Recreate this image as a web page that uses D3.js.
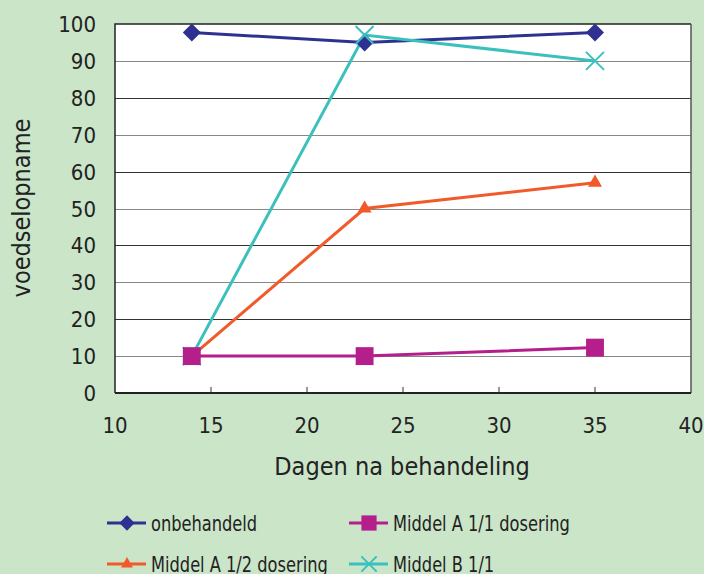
<!DOCTYPE html>
<html>
<head>
<meta charset="utf-8">
<script src="https://cdn.jsdelivr.net/npm/d3@7"></script>
<style>
body { margin:0; background:#cbe5c8; }
svg text { font-family: "DejaVu Sans Condensed", "DejaVu Sans", sans-serif; font-stretch: condensed; fill:#222; }
</style>
</head>
<body>
<div id="chart"></div>
<script>
// dagen na behandeling
var days = [14, 23, 35];
var onbehandeld = [97.7, 95, 97.7];
var middelA11 = [10, 10, 12.3];
var middelA12 = [10, 50, 57];
var middelB11 = [10, 97, 90];
var xTicks = [10, 15, 20, 25, 30, 35, 40];
var yTicks = [0, 10, 20, 30, 40, 50, 60, 70, 80, 90, 100];

var series = [
  {name:"onbehandeld", values:onbehandeld, color:"#2e3192", sym:"diamond", size:9},
  {name:"Middel A 1/2 dosering", values:middelA12, color:"#f15a29", sym:d3.symbolTriangle, size:85},
  {name:"Middel B 1/1", values:middelB11, color:"#3cc0bd", sym:"x", size:9},
  {name:"Middel A 1/1 dosering", values:middelA11, color:"#b41f8c", sym:d3.symbolSquare, size:320}
];

var W = 704, H = 574;
var pLeft = 115, pTop = 24, pRight = 691, pBottom = 393;

var svg = d3.select("#chart").append("svg")
  .attr("width", W).attr("height", H);

svg.append("rect").attr("width", W).attr("height", H).attr("fill", "#cbe5c8");

var x = d3.scaleLinear().domain([10, 40]).range([pLeft, pRight]);
var y = d3.scaleLinear().domain([0, 100]).range([pBottom, pTop]);

svg.append("rect")
  .attr("x", pLeft).attr("y", pTop)
  .attr("width", pRight-pLeft).attr("height", pBottom-pTop)
  .attr("fill", "#fff");

// gridlines
svg.append("g").selectAll("line")
  .data(yTicks.filter(function(d){ return d>0 && d<100; }))
  .enter().append("line")
  .attr("x1", pLeft).attr("x2", pRight)
  .attr("y1", function(d){ return Math.round(y(d))+0.5; })
  .attr("y2", function(d){ return Math.round(y(d))+0.5; })
  .attr("stroke", function(d){ return (d/10)%2 ? "#888" : "#333"; })
  .attr("stroke-width", 1.2);

// plot border
svg.append("path")
  .attr("d", "M"+pLeft+","+pBottom+"V"+pTop+"H"+pRight)
  .attr("fill", "none").attr("stroke", "#222").attr("stroke-width", 1.5);
svg.append("line")
  .attr("x1", pRight).attr("x2", pRight).attr("y1", pTop).attr("y2", pBottom)
  .attr("stroke", "#555").attr("stroke-width", 1.5);
svg.append("line")
  .attr("x1", pLeft).attr("x2", pRight).attr("y1", pBottom).attr("y2", pBottom)
  .attr("stroke", "#222").attr("stroke-width", 2);

// x ticks (inside, upward)
svg.append("g").selectAll("line")
  .data(xTicks.slice(1, -1))
  .enter().append("line")
  .attr("x1", function(d){ return x(d); }).attr("x2", function(d){ return x(d); })
  .attr("y1", pBottom).attr("y2", pBottom-6)
  .attr("stroke", "#333").attr("stroke-width", 1);

// tick labels
svg.append("g").selectAll("text")
  .data(xTicks).enter().append("text")
  .attr("x", function(d){ return x(d); })
  .attr("y", 433)
  .attr("text-anchor", "middle")
  .style("font-size", "22px")
  .text(function(d){ return d; });

svg.append("g").selectAll("text")
  .data(yTicks).enter().append("text")
  .attr("x", 96)
  .attr("y", function(d){ return y(d)+8; })
  .attr("text-anchor", "end")
  .style("font-size", "22px")
  .text(function(d){ return d; });

// axis titles
svg.append("text")
  .attr("x", (pLeft+pRight)/2 - 1).attr("y", 475)
  .attr("text-anchor", "middle")
  .style("font-size", "25px")
  .text("Dagen na behandeling");

svg.append("text")
  .attr("transform", "translate(30,208) rotate(-90)")
  .attr("text-anchor", "middle")
  .style("font-size", "25px")
  .text("voedselopname");

var line = d3.line()
  .x(function(d, i){ return x(days[i]); })
  .y(function(d){ return y(d); });

function marker(sel, s, k) {
  k = k || 1;
  var r = s.size * k;
  if (s.sym === "x") {
    sel.append("path")
      .attr("d", "M"+(-r)+","+(-r)+"L"+r+","+r+"M"+(-r)+","+r+"L"+r+","+(-r))
      .attr("stroke", s.color).attr("stroke-width", 2).attr("fill", "none");
  } else if (s.sym === "diamond") {
    sel.append("path")
      .attr("d", "M0,"+(-r)+"L"+r+",0L0,"+r+"L"+(-r)+",0Z")
      .attr("fill", s.color);
  } else {
    sel.append("path")
      .attr("d", d3.symbol().type(s.sym).size(s.size*k*k)())
      .attr("fill", s.color);
  }
}

var g = svg.append("g");
series.forEach(function(s){
  g.append("path")
    .attr("d", line(s.values))
    .attr("fill", "none")
    .attr("stroke", s.color)
    .attr("stroke-width", 3);
});
series.forEach(function(s){
  s.values.forEach(function(v, i){
    var m = g.append("g").attr("transform", "translate("+x(days[i])+","+y(v)+")");
    marker(m, s);
  });
});

// legend
var legendItems = [
  {s:series[0], lx:107, ly:523},
  {s:series[3], lx:349, ly:523},
  {s:series[1], lx:107, ly:564},
  {s:series[2], lx:349, ly:564}
];
legendItems.forEach(function(it){
  var lg = svg.append("g").attr("transform", "translate("+it.lx+","+it.ly+")");
  lg.append("line").attr("x1", 0).attr("x2", 39).attr("y1", 0).attr("y2", 0)
    .attr("stroke", it.s.color).attr("stroke-width", 3);
  var m = lg.append("g").attr("transform", "translate(20,0)");
  marker(m, it.s, 0.85);
  var t = lg.append("text").attr("x", 44).attr("y", 8)
    .style("font-size", "22px")
    .text(it.s.name);
  // legend font in the reference is narrower than the axis titles
  var w = t.node().getComputedTextLength();
  t.attr("textLength", w*0.82).attr("lengthAdjust", "spacingAndGlyphs");
});
</script>
</body>
</html>
